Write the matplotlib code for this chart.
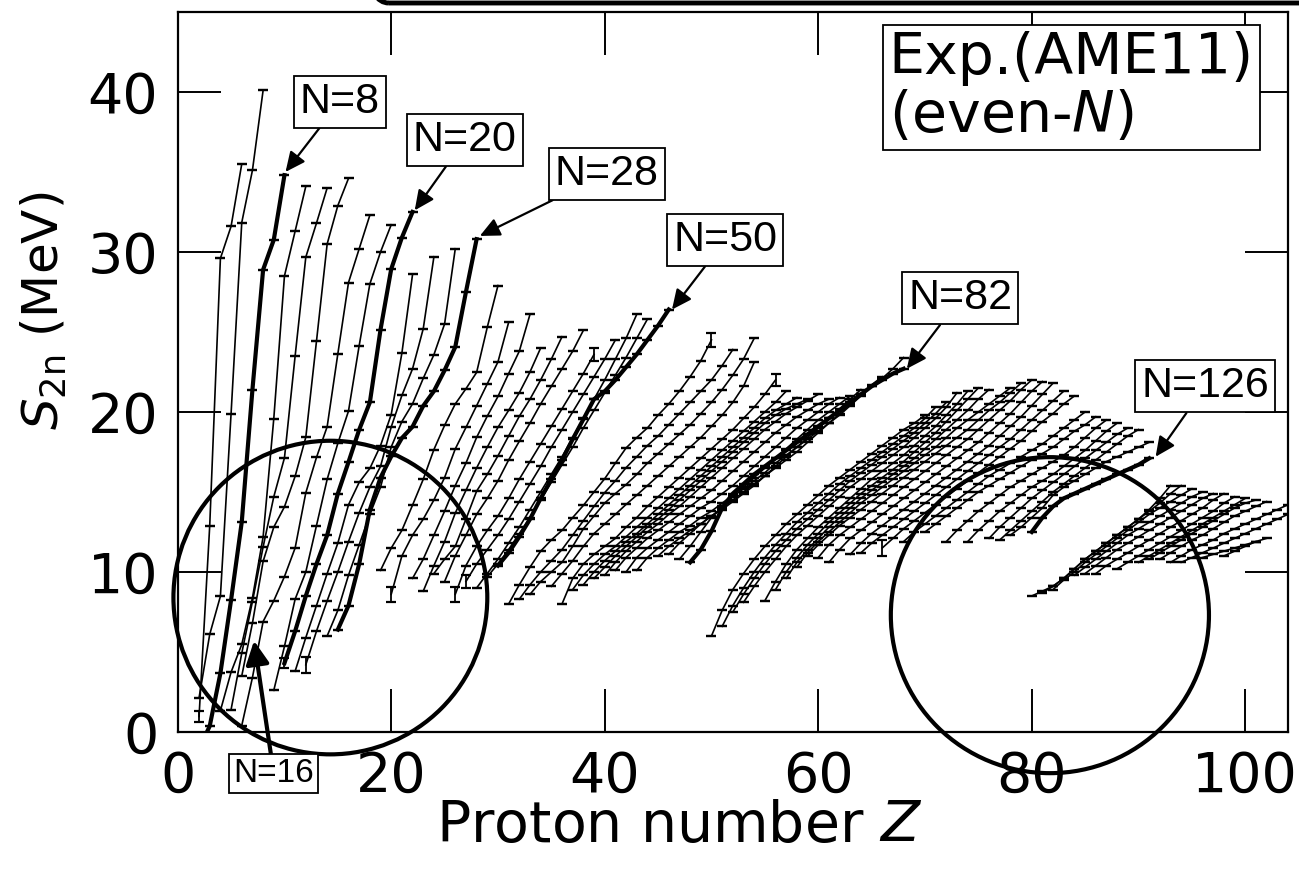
"""
ENERGÍA DE SEPARACIÓN DE DOS NEUTRONES S2n (AME11) PARA CADENAS DE ISÓTONOS CON N PAR.
"""
import matplotlib
matplotlib.use("Agg")
import matplotlib.pyplot as plt
from matplotlib.patches import Ellipse, FancyBboxPatch

# cada cadena: (N, Z inicial, S2n en MeV para Z, Z+1, Z+2, ...)
capa_ligera = [
    (4, 2, [0.97, 12.9, 29.6, 31.6, 35.5]),
    (6, 2, [2.14, 6.10, 8.48, 19.9, 31.84, 35.1, 40.1]),
    (8, 2, [-1.06, 0.37, 3.67, 8.25, 13.12, 21.39, 28.89, 30.76, 34.8]),
    (10, 4, [1.33, 3.74, 5.47, 8.38, 12.19, 19.58, 28.50, 31.3, 34.1]),
    (12, 5, [1.4, 4.92, 8.15, 11.56, 14.70, 17.13, 23.50, 29.68, 31.8, 34.0]),
    (14, 6, [3.5, 6.8, 10.66, 12.8, 14.07, 15.98, 18.42, 24.42, 30.50, 32.9, 34.6]),
    (16, 6, [0.4, 3.4, 6.9, 8.2, 9.71, 11.5, 14.95, 17.16, 19.08, 23.63, 28.09, 30.2, 32.3]),
    (18, 9, [2.6, 5.35, 8.3, 10.0, 12.9, 15.79, 18.04, 20.06, 24.15, 28.0, 30.0, 31.7]),
    (20, 10, [4.3, 6.3, 8.5, 10.5, 12.3, 14.9, 16.87, 18.89, 20.6, 25.15, 28.93, 30.9, 32.5]),
    (22, 11, [3.8, 5.9, 7.9, 9.9, 11.8, 14.2, 15.6, 16.47, 17.9, 19.84, 23.68, 28.6]),
    (24, 12, [4.2, 6.3, 8.2, 10.0, 11.9, 13.7, 15.3, 16.6, 19.06, 21.03, 22.7, 25.2, 29.7]),
    (26, 14, [6.0, 7.6, 9.8, 11.7, 13.6, 15.3, 17.81, 19.4, 20.51, 22.1, 23.58, 25.5, 30.2]),
    (28, 15, [6.4, 7.9, 10.5, 13.9, 15.9, 17.22, 18.37, 19.08, 20.38, 21.3, 22.6, 24.06, 27.5, 30.8]),
]

capa_n30_50 = [
    (30, 19, [10.1, 11.49, 12.6, 14.18, 15.79, 17.65, 19.16, 20.50, 21.45, 22.47, 25.3, 27.9]),
    (32, 20, [8.6, 11.0, 12.3, 13.3, 14.5, 15.9, 17.69, 19.03, 20.39, 21.76, 23.13, 25.6]),
    (34, 22, [9.6, 10.8, 12.3, 13.8, 15.4, 16.8, 18.41, 19.74, 20.97, 22.4, 23.8, 26.1]),
    (36, 23, [8.8, 10.4, 11.9, 13.68, 15.1, 16.5, 17.8, 19.04, 20.1, 21.2, 22.5, 24.0]),
    (38, 24, [9.9, 10.8, 11.6, 13.3, 15.05, 16.1, 17.26, 18.5, 19.73, 20.8, 22.0, 23.3, 24.7]),
    (40, 25, [9.4, 11.0, 12.3, 13.6, 14.6, 15.7, 17.0, 18.17, 19.3, 20.5, 21.6, 22.7, 23.8, 25.1]),
    (42, 26, [8.6, 10.4, 11.6, 12.6, 13.5, 14.6, 15.8, 16.9, 18.0, 19.1, 20.2, 21.3, 22.4, 23.6]),
    (44, 27, [9.4, 10.5, 11.4, 12.3, 13.3, 14.4, 15.5, 16.6, 17.8, 18.9, 20.0, 21.1, 22.2, 23.3, 24.5]),
    (46, 28, [9.0, 9.9, 10.8, 11.8, 12.8, 13.9, 15.0, 16.1, 17.2, 18.4, 19.6, 20.8, 22.0, 23.3, 24.6, 26.1]),
    (48, 29, [9.7, 10.5, 11.4, 12.4, 13.4, 14.5, 15.6, 16.7, 17.8, 19.0, 20.1, 21.2, 22.3, 23.4, 24.6, 25.8]),
    (50, 30, [10.4, 11.2, 12.2, 13.3, 14.6, 15.8, 16.98, 18.3, 19.54, 20.8, 21.29, 22.0, 22.8, 23.6, 24.5, 25.4, 26.4]),
]

capa_n52_82 = [
    (52, 31, [8.0, 9.2, 10.3, 11.3, 12.0, 12.6, 13.4, 14.16, 15.0, 15.83, 16.8, 17.75, 18.4, 19.0, 19.8, 20.5, 21.3, 22.2, 23.2, 24.5]),
    (54, 32, [8.3, 9.2, 10.0, 10.7, 11.4, 12.3, 13.2, 14.1, 14.96, 15.7, 16.52, 17.2, 17.9, 18.5, 19.2, 19.9, 20.6, 21.3, 22.0, 22.9, 23.9]),
    (56, 33, [8.6, 9.4, 10.0, 10.6, 11.6, 12.7, 13.5, 14.31, 14.9, 15.46, 16.1, 16.8, 17.4, 18.0, 18.6, 19.2, 19.9, 20.6, 21.4, 22.3, 23.3, 24.6]),
    (58, 35, [9.1, 9.9, 10.7, 11.6, 12.4, 13.0, 13.6, 14.22, 14.8, 15.4, 16.0, 16.6, 17.2, 17.8, 18.4, 19.1, 19.8, 20.6, 21.6, 23.1]),
    (60, 36, [8.0, 9.6, 10.5, 11.1, 11.6, 12.1, 12.8, 13.4, 14.1, 14.7, 15.3, 15.9, 16.5, 17.1, 17.7, 18.3, 18.9, 19.6, 20.3, 21.1, 22.0]),
    (62, 37, [8.9, 9.8, 10.5, 11.1, 11.6, 12.2, 12.8, 13.4, 14.0, 14.6, 15.2, 15.8, 16.4, 17.0, 17.6, 18.2, 18.8, 19.4, 20.0, 20.6, 21.3]),
    (64, 38, [9.2, 10.0, 10.7, 11.3, 11.9, 12.4, 13.0, 13.6, 14.2, 14.8, 15.4, 16.0, 16.6, 17.2, 17.8, 18.4, 19.0, 19.6, 20.1, 20.5, 20.9]),
    (66, 39, [9.6, 10.3, 11.0, 11.6, 12.2, 12.8, 13.3, 13.9, 14.5, 15.1, 15.7, 16.3, 16.9, 17.5, 18.1, 18.7, 19.3, 19.8, 20.2, 20.5, 20.8]),
    (68, 40, [9.8, 10.6, 11.3, 11.9, 12.5, 13.0, 13.6, 14.1, 14.7, 15.3, 15.9, 16.5, 17.1, 17.7, 18.3, 18.9, 19.4, 19.9, 20.3, 20.7, 21.1]),
    (70, 41, [10.1, 10.9, 11.5, 12.1, 12.6, 13.1, 13.6, 14.1, 14.6, 15.1, 15.7, 16.3, 16.9, 17.5, 18.1, 18.7, 19.2, 19.7, 20.1, 20.5, 20.8]),
    (72, 42, [10.0, 10.9, 11.5, 12.0, 12.5, 13.0, 13.5, 14.0, 14.4, 14.9, 15.4, 16.0, 16.6, 17.2, 17.8, 18.4, 19.0, 19.5, 20.0, 20.5, 20.9]),
    (74, 43, [10.1, 10.9, 11.5, 12.0, 12.5, 12.9, 13.4, 13.8, 14.3, 14.8, 15.3, 15.9, 16.5, 17.1, 17.7, 18.3, 18.9, 19.5, 20.0, 20.5, 21.0]),
    (76, 45, [11.0, 11.6, 12.1, 12.6, 13.0, 13.5, 13.9, 14.4, 14.9, 15.4, 16.0, 16.6, 17.2, 17.8, 18.4, 19.0, 19.6, 20.2, 20.8, 21.4]),
    (78, 46, [11.1, 11.8, 12.4, 13.0, 13.5, 14.0, 14.5, 15.0, 15.5, 16.0, 16.5, 17.0, 17.5, 18.1, 18.7, 19.3, 19.9, 20.5, 21.1, 21.7, 22.2]),
    (80, 47, [10.8, 11.6, 12.5, 13.4, 14.1, 14.7, 15.2, 15.7, 16.2, 16.8, 17.3, 17.8, 18.3, 18.8, 19.3, 19.8, 20.4, 21.0, 21.6, 22.1, 22.7, 23.4]),
    (82, 48, [10.6, 11.4, 12.55, 14.0, 14.9, 15.5, 16.1, 16.6, 17.1, 17.6, 18.1, 18.6, 19.1, 19.6, 20.1, 20.6, 21.1, 21.6, 22.0, 22.4, 22.7]),
]

capa_n84_126 = [
    (84, 50, [6.0, 7.6, 8.9, 9.9, 10.8, 11.6, 12.3, 13.0, 13.6, 14.2, 14.8, 15.4, 15.9, 16.4, 16.9, 17.4, 17.9, 18.4, 18.9, 19.3, 19.8]),
    (86, 51, [6.6, 7.9, 9.0, 10.0, 10.9, 11.7, 12.4, 13.1, 13.7, 14.3, 14.9, 15.5, 16.0, 16.5, 17.0, 17.5, 18.0, 18.5, 19.0, 19.6, 20.3]),
    (88, 52, [7.5, 8.6, 9.6, 10.5, 11.3, 12.0, 12.7, 13.3, 13.9, 14.5, 15.1, 15.7, 16.2, 16.7, 17.2, 17.7, 18.2, 18.7, 19.3, 19.9, 20.6]),
    (90, 53, [8.1, 9.1, 10.0, 10.8, 11.6, 12.3, 12.9, 13.5, 14.1, 14.7, 15.3, 15.8, 16.3, 16.8, 17.3, 17.8, 18.4, 19.0, 19.6, 20.3, 21.2]),
    (92, 55, [8.2, 9.4, 10.5, 11.4, 12.1, 12.8, 13.4, 14.0, 14.6, 15.2, 15.8, 16.3, 16.8, 17.3, 17.9, 18.5, 19.1, 19.8, 20.5, 21.3]),
    (94, 56, [8.9, 10.0, 10.9, 11.7, 12.4, 13.1, 13.7, 14.3, 14.9, 15.4, 15.9, 16.4, 16.9, 17.5, 18.1, 18.7, 19.4, 20.1, 20.8, 21.5]),
    (96, 57, [9.6, 10.6, 11.4, 12.1, 12.8, 13.4, 14.0, 14.6, 15.1, 15.6, 16.1, 16.6, 17.1, 17.7, 18.3, 18.9, 19.5, 20.1, 20.8, 21.4]),
    (98, 58, [10.3, 11.2, 11.9, 12.5, 13.1, 13.7, 14.3, 14.8, 15.3, 15.8, 16.3, 16.8, 17.3, 17.8, 18.4, 19.0, 19.5, 20.0, 20.5, 21.0, 21.5]),
    (100, 59, [11.0, 11.7, 12.3, 12.9, 13.4, 13.9, 14.4, 14.9, 15.4, 15.9, 16.4, 16.9, 17.4, 17.9, 18.4, 18.9, 19.5, 20.1, 20.6, 21.2, 21.8]),
    (102, 60, [10.9, 11.7, 12.3, 12.8, 13.3, 13.8, 14.3, 14.8, 15.3, 15.8, 16.3, 16.8, 17.3, 17.8, 18.3, 18.9, 19.5, 20.1, 20.7, 21.4, 22.0]),
    (104, 61, [10.6, 11.4, 12.1, 12.6, 13.1, 13.6, 14.1, 14.6, 15.1, 15.6, 16.1, 16.6, 17.1, 17.6, 18.1, 18.7, 19.3, 19.9, 20.6, 21.3, 21.9]),
    (106, 63, [11.1, 11.8, 12.4, 12.9, 13.4, 13.9, 14.4, 14.9, 15.4, 15.9, 16.4, 16.9, 17.4, 17.9, 18.5, 19.1, 19.7, 20.4, 21.1, 21.8]),
    (108, 64, [11.2, 11.8, 12.3, 12.8, 13.3, 13.8, 14.3, 14.8, 15.3, 15.8, 16.3, 16.8, 17.3, 17.8, 18.3, 18.9, 19.5, 20.1, 20.7, 21.3]),
    (110, 66, [11.5, 12.1, 12.7, 13.2, 13.7, 14.2, 14.7, 15.2, 15.7, 16.2, 16.7, 17.2, 17.7, 18.2, 18.8, 19.4, 19.9, 20.5, 21.0]),
    (112, 68, [11.9, 12.5, 13.0, 13.5, 14.0, 14.5, 15.0, 15.5, 16.0, 16.4, 16.8, 17.2, 17.6, 18.0, 18.5, 19.0, 19.5, 20.0]),
    (114, 70, [12.5, 13.0, 13.5, 14.0, 14.5, 15.0, 15.4, 15.8, 16.2, 16.6, 17.0, 17.4, 17.8, 18.3, 18.8, 19.2, 19.7]),
    (116, 72, [11.9, 12.6, 13.2, 13.8, 14.3, 14.8, 15.3, 15.7, 16.1, 16.5, 16.9, 17.3, 17.8, 18.4, 19.0, 19.5]),
    (118, 74, [11.9, 12.6, 13.2, 13.8, 14.3, 14.8, 15.3, 15.7, 16.1, 16.6, 17.1, 17.6, 18.2, 18.8, 19.3]),
    (120, 76, [12.1, 12.8, 13.4, 14.0, 14.6, 15.1, 15.6, 16.1, 16.6, 17.1, 17.6, 18.1, 18.6, 19.0]),
    (122, 77, [12.0, 12.6, 13.2, 13.8, 14.4, 15.0, 15.5, 16.0, 16.5, 17.0, 17.5, 18.0, 18.5, 18.9]),
    (124, 78, [12.3, 12.8, 13.4, 14.0, 14.8, 15.3, 15.7, 16.1, 16.5, 16.9, 17.2, 17.5, 17.8, 18.1]),
    (126, 80, [12.5, 13.4, 14.1, 14.6, 14.9, 15.2, 15.5, 15.8, 16.1, 16.4, 16.7, 17.1]),
]

capa_n128_154 = [
    (128, 80, [8.5, 8.8, 9.12, 9.6, 10.2, 10.8, 11.3, 11.8, 12.3, 12.8, 13.3, 13.9, 14.6, 15.4]),
    (130, 81, [8.7, 9.1, 9.6, 10.2, 10.8, 11.3, 11.8, 12.3, 12.8, 13.3, 13.8, 14.3, 14.9, 15.4]),
    (132, 82, [8.9, 9.5, 10.0, 10.6, 11.1, 11.6, 12.1, 12.6, 13.1, 13.6, 14.0, 14.4, 14.8, 15.2]),
    (134, 84, [9.8, 10.3, 10.8, 11.3, 11.8, 12.3, 12.7, 13.1, 13.5, 13.9, 14.3, 14.7, 15.0]),
    (136, 85, [9.9, 10.4, 10.9, 11.4, 11.8, 12.2, 12.6, 13.0, 13.4, 13.8, 14.2, 14.6, 14.9]),
    (138, 86, [9.9, 10.4, 10.8, 11.2, 11.6, 12.0, 12.4, 12.8, 13.2, 13.6, 14.0, 14.5, 14.9]),
    (140, 88, [10.2, 10.6, 11.0, 11.4, 11.8, 12.2, 12.6, 13.0, 13.4, 13.8, 14.3, 14.7]),
    (142, 90, [10.6, 11.0, 11.4, 11.8, 12.2, 12.6, 13.0, 13.4, 13.8, 14.2, 14.6]),
    (144, 91, [10.8, 11.2, 11.6, 12.0, 12.4, 12.8, 13.2, 13.6, 14.0, 14.3, 14.5]),
    (146, 92, [10.8, 11.2, 11.6, 12.0, 12.3, 12.7, 13.1, 13.5, 13.8, 14.1, 14.4]),
    (148, 93, [10.6, 11.0, 11.4, 11.7, 12.0, 12.4, 12.7, 13.0, 13.3, 13.6, 13.9, 14.2, 14.6]),
    (150, 94, [10.6, 10.9, 11.2, 11.5, 11.8, 12.1, 12.4, 12.7, 13.0, 13.3, 13.6]),
    (152, 96, [10.9, 11.1, 11.3, 11.5, 11.7, 11.9, 12.1]),
    (154, 98, [11.0, 11.3, 11.6, 11.9]),
]

# cadenas con número mágico de neutrones (líneas gruesas)
n_magicos = [8, 20, 28, 50, 82, 126]

# puntos con barra de error visible: (N, Z, error en MeV)
barras_grandes = [(4, 2, 0.35), (20, 10, 0.3), (24, 12, 0.5), (32, 20, 0.45),
                  (42, 26, 0.45), (44, 27, 0.4), (42, 39, 0.4), (52, 50, 0.45),
                  (60, 56, 0.4), (110, 66, 0.5)]

plt.rcParams["font.family"] = ["DejaVu Sans"]
errores = {(n, z): e for n, z, e in barras_grandes}


def dibuja_cadenas(ax, cadenas):
    """
    DIBUJA CADA CADENA DE ISÓTONOS CON SUS BARRAS DE ERROR.
    """
    for n, z0, s2n in cadenas:
        z = list(range(z0, z0 + len(s2n)))
        err = [errores.get((n, zz), 0.0) for zz in z]
        grueso = n in n_magicos
        ax.errorbar(z, s2n, yerr=err, color="black",
                    lw=3.0 if grueso else 1.2, elinewidth=1.3,
                    capsize=3.4, capthick=1.6, zorder=3 if grueso else 2)


fig = plt.figure(figsize=(12.99, 8.72), dpi=100)
ax = fig.add_axes([0.1368, 0.1606, 0.8547, 0.8257])

for capa in (capa_ligera, capa_n30_50, capa_n52_82, capa_n84_126, capa_n128_154):
    dibuja_cadenas(ax, capa)

ax.set_xlim(0, 104)
ax.set_ylim(0, 45)
ax.set_xticks([0, 20, 40, 60, 80, 100])
ax.set_yticks([0, 10, 20, 30, 40])
ax.tick_params(direction="in", length=31, width=1.4, top=True, right=True,
               labelsize=40)
ax.tick_params(axis="x", pad=13)
ax.tick_params(axis="y", pad=14)
for lado in ax.spines.values():
    lado.set_linewidth(1.6)

ax.set_xlabel("Proton number $Z$", fontsize=41)
ax.xaxis.set_label_coords(0.452, -0.093)
ax.set_ylabel(r"$S_{\mathrm{2n}}$ (MeV)", fontsize=36)
ax.yaxis.set_label_coords(-0.098, 0.585)

# círculos de la figura original
for cz, cs, ancho, alto in [(14.3, 8.4, 29.4, 19.6), (81.7, 7.3, 29.8, 19.75)]:
    ax.add_patch(Ellipse((cz, cs), ancho, alto, fill=False, ec="black",
                         lw=3.0, clip_on=False, zorder=6))

# etiquetas de las cadenas mágicas
etiquetas = [("N=8", (15.2, 39.4), (10.1, 35.0), 31),
             ("N=20", (26.9, 37.0), (22.2, 32.6), 31),
             ("N=28", (40.2, 34.9), (28.3, 31.0), 31),
             ("N=50", (51.3, 30.75), (46.3, 26.4), 31),
             ("N=82", (73.3, 27.1), (68.3, 22.7), 31),
             ("N=126", (96.25, 21.6), (91.6, 17.2), 31)]
for texto, pos, punta, tam in etiquetas:
    ax.annotate(texto, xy=punta, xytext=pos, ha="center", va="center",
                fontsize=tam, family="Liberation Sans", zorder=7,
                bbox=dict(boxstyle="square,pad=0.14", fc="white", ec="black", lw=1.3),
                arrowprops=dict(arrowstyle="-|>,head_length=0.6,head_width=0.28",
                                color="black", lw=1.6, mutation_scale=20,
                                shrinkA=0, shrinkB=0))

ax.annotate("N=16", xy=(7.15, 5.7), xytext=(9.0, -2.6), ha="center", va="center",
            fontsize=24, family="Liberation Sans", zorder=7, annotation_clip=False,
            bbox=dict(boxstyle="square,pad=0.12", fc="white", ec="black", lw=1.3),
            arrowprops=dict(arrowstyle="-|>,head_length=0.7,head_width=0.35",
                            color="black", lw=3.0, mutation_scale=20,
                            shrinkA=0, shrinkB=0))

ax.text(0.6405, 0.974, "Exp.(AME11)\n(even-$N$)", transform=ax.transAxes,
        ha="left", va="top", fontsize=41, linespacing=1.08, zorder=7,
        bbox=dict(boxstyle="square,pad=0.1", fc="white", ec="black", lw=1.3))

# borde redondeado recortado en la parte superior
fig.add_artist(FancyBboxPatch((356 / 1299, 1 - 3 / 872), 1.0, 0.2,
                              boxstyle="round,pad=0,rounding_size=0.025",
                              mutation_aspect=1299 / 872, fill=False,
                              ec="black", lw=3.5, transform=fig.transFigure))

fig.savefig("out.png", dpi=100)
